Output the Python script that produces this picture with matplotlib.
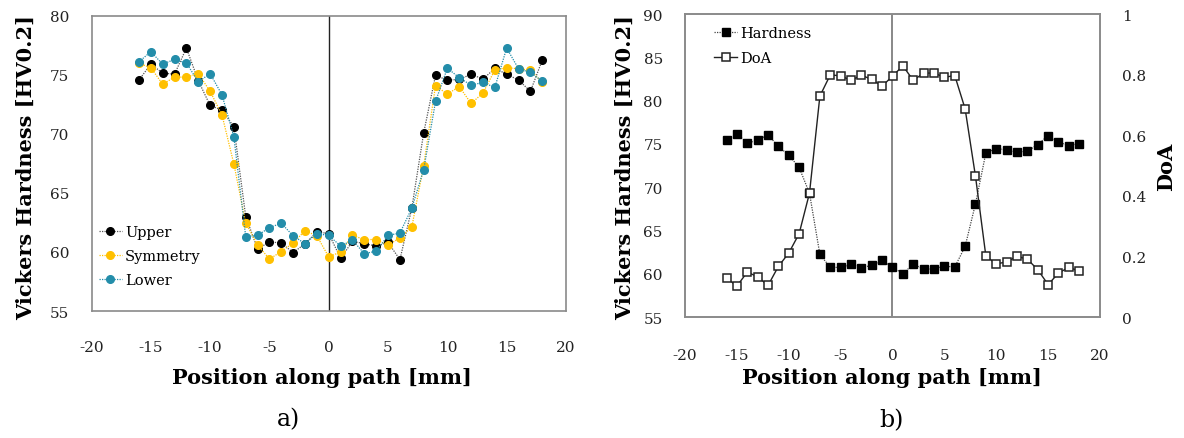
import numpy as np
import matplotlib
matplotlib.use("Agg")
import matplotlib.pyplot as plt
from matplotlib.lines import Line2D

plt.rcParams['font.family'] = ['DejaVu Serif']
plt.rcParams['axes.unicode_minus'] = False

# Measurement positions along the path [mm]
position = list(range(-16, 19))

# a) Hardness profiles at three depths
upper = [74.55, 75.9, 75.14, 75.05, 77.26, 74.5, 72.4, 72.0, 70.6, 63.0,
         60.25, 60.85, 60.76, 59.94, 60.7, 61.7, 61.55, 59.46, 60.9, 60.7,
         60.5, 60.8, 59.35, 63.7, 70.06, 74.94, 74.55, 74.6, 75.05, 74.63,
         75.54, 75.05, 74.55, 73.6, 76.24]
symmetry = [75.96, 75.6, 74.2, 74.8, 74.8, 75.1, 73.6, 71.6, 67.45, 62.45,
            60.6, 59.4, 60.03, 60.76, 61.8, 61.36, 59.58, 60.0, 61.4, 61.05,
            61.05, 60.56, 61.2, 62.1, 67.3, 74.07, 73.36, 74.0, 72.57, 73.45,
            75.4, 75.6, 75.5, 75.4, 74.35]
lower = [76.1, 76.95, 75.9, 76.3, 76.0, 74.4, 75.1, 73.3, 69.75, 61.3,
         61.4, 62.06, 62.43, 61.36, 60.7, 61.55, 61.4, 60.5, 61.0, 59.86,
         60.06, 61.4, 61.6, 63.7, 66.95, 72.74, 75.56, 74.75, 74.12, 74.35,
         73.93, 77.26, 75.5, 75.2, 74.46]

# b) Hardness and degree of annealing (DoA)
hardness = [75.5, 76.15, 75.1, 75.4, 76.04, 74.7, 73.7, 72.27, 69.3, 62.23,
            60.73, 60.73, 61.08, 60.7, 60.96, 61.54, 60.77, 60.0, 61.1, 60.54,
            60.54, 60.88, 60.77, 63.15, 68.08, 73.96, 74.46, 74.3, 74.04, 74.15,
            74.92, 75.96, 75.23, 74.77, 75.04]
doa = [0.129, 0.102, 0.148, 0.133, 0.104, 0.167, 0.211, 0.275, 0.409, 0.729,
       0.799, 0.796, 0.781, 0.798, 0.784, 0.762, 0.795, 0.829, 0.781, 0.805,
       0.805, 0.791, 0.797, 0.687, 0.464, 0.201, 0.175, 0.182, 0.2, 0.191,
       0.156, 0.107, 0.145, 0.164, 0.151]

x_ticks = [-20, -15, -10, -5, 0, 5, 10, 15, 20]
left_yticks = [55, 60, 65, 70, 75, 80]
right_yticks = [55, 60, 65, 70, 75, 80, 85, 90]
doa_ticks = [0, 0.2, 0.4, 0.6, 0.8, 1]
doa_ticklabels = ["0", "0.2", "0.4", "0.6", "0.8", "1"]

W, H = 1184, 439
fig = plt.figure(figsize=(W / 100, H / 100), dpi=100)

SPINE = "#8a8a8a"
TICK_FS = 11
LABEL_FS = 15
YELLOW = "#FFC000"
TEAL = "#238DAA"


def style_axes(ax, pad_x, pad_y):
    for s in ax.spines.values():
        s.set_color(SPINE)
        s.set_linewidth(1.2)
    ax.tick_params(axis='both', length=0, labelsize=TICK_FS, colors="#222222")
    ax.tick_params(axis='x', pad=pad_x)
    ax.tick_params(axis='y', pad=pad_y)


# ---------------- panel a ----------------
axa = fig.add_axes([91.5 / W, 1 - 312 / H, 474.5 / W, 295.3 / H])
axa.axvline(0, color="#222222", lw=1.0, zorder=1)
series = [(upper, "black", "#555555", "Upper"),
          (symmetry, YELLOW, YELLOW, "Symmetry"),
          (lower, TEAL, TEAL, "Lower")]
handles = []
for vals, mc, lc, name in series:
    axa.plot(position, vals, linestyle=(0, (1, 1)), color=lc, lw=0.9,
             marker='o', ms=5.5, mfc=mc, mec=mc, zorder=3)
    handles.append(Line2D([], [], linestyle=(0, (1, 1)), color=lc, lw=0.9,
                          marker='o', ms=5.5, mfc=mc, mec=mc, label=name))
axa.set_xlim(-20, 20)
axa.set_ylim(55, 80)
axa.set_xticks(x_ticks)
axa.set_yticks(left_yticks)
style_axes(axa, 21, 16)
axa.legend(handles=handles, loc='upper left',
           bbox_to_anchor=(0.015, 0.29), frameon=False,
           fontsize=10.5, handlelength=1.6, handletextpad=0.2,
           labelspacing=0.68, borderpad=0, borderaxespad=0)

fig.text(321.7 / W, 1 - 378 / H, "Position along path [mm]", ha='center',
         va='center', fontsize=LABEL_FS, fontweight='bold')
fig.text(26 / W, 1 - 168 / H, "Vickers Hardness [HV0.2]", ha='center',
         va='center', rotation=90, fontsize=LABEL_FS, fontweight='bold')
fig.text(289 / W, 1 - 420 / H, "a)", ha='center', va='center', fontsize=17)

# ---------------- panel b ----------------
axb = fig.add_axes([685 / W, 1 - 318 / H, 415 / W, 303 / H])
axb.axvline(0, color="#7f7f7f", lw=1.3, zorder=1)
axb.plot(position, hardness, linestyle=(0, (1, 1)), color="#444444", lw=0.9,
         marker='s', ms=6, mfc='black', mec='black', zorder=3)
axb.set_xlim(-20, 20)
axb.set_ylim(55, 90)
axb.set_xticks(x_ticks)
axb.set_yticks(right_yticks)
style_axes(axb, 22, 16)

axd = axb.twinx()
axd.plot(position, doa, linestyle='-', color="#222222", lw=1.0,
         marker='s', ms=6, mfc='white', mec='#222222', mew=1.1, zorder=3)
axd.set_ylim(0, 1)
axd.set_yticks(doa_ticks)
axd.set_yticklabels(doa_ticklabels)
style_axes(axd, 22, 16)

leg_handles = [
    Line2D([], [], linestyle=(0, (1, 1)), color="#444444", lw=0.9, marker='s',
           ms=6, mfc='black', mec='black', label="Hardness"),
    Line2D([], [], linestyle='-', color="#222222", lw=1.0, marker='s',
           ms=6, mfc='white', mec='#222222', mew=1.1, label="DoA"),
]
axd.legend(handles=leg_handles, loc='upper left',
           bbox_to_anchor=(0.07, 0.96), frameon=False,
           fontsize=10.5, handlelength=1.6, handletextpad=0.2,
           labelspacing=0.72, borderpad=0, borderaxespad=0)

fig.text(892 / W, 1 - 378 / H, "Position along path [mm]", ha='center',
         va='center', fontsize=LABEL_FS, fontweight='bold')
fig.text(625 / W, 1 - 168 / H, "Vickers Hardness [HV0.2]", ha='center',
         va='center', rotation=90, fontsize=LABEL_FS, fontweight='bold')
fig.text(1166 / W, 1 - 167 / H, "DoA", ha='center', va='center',
         rotation=90, fontsize=LABEL_FS, fontweight='bold')
fig.text(892 / W, 1 - 421 / H, "b)", ha='center', va='center', fontsize=17)

fig.savefig("out.png", dpi=100, facecolor='white')
